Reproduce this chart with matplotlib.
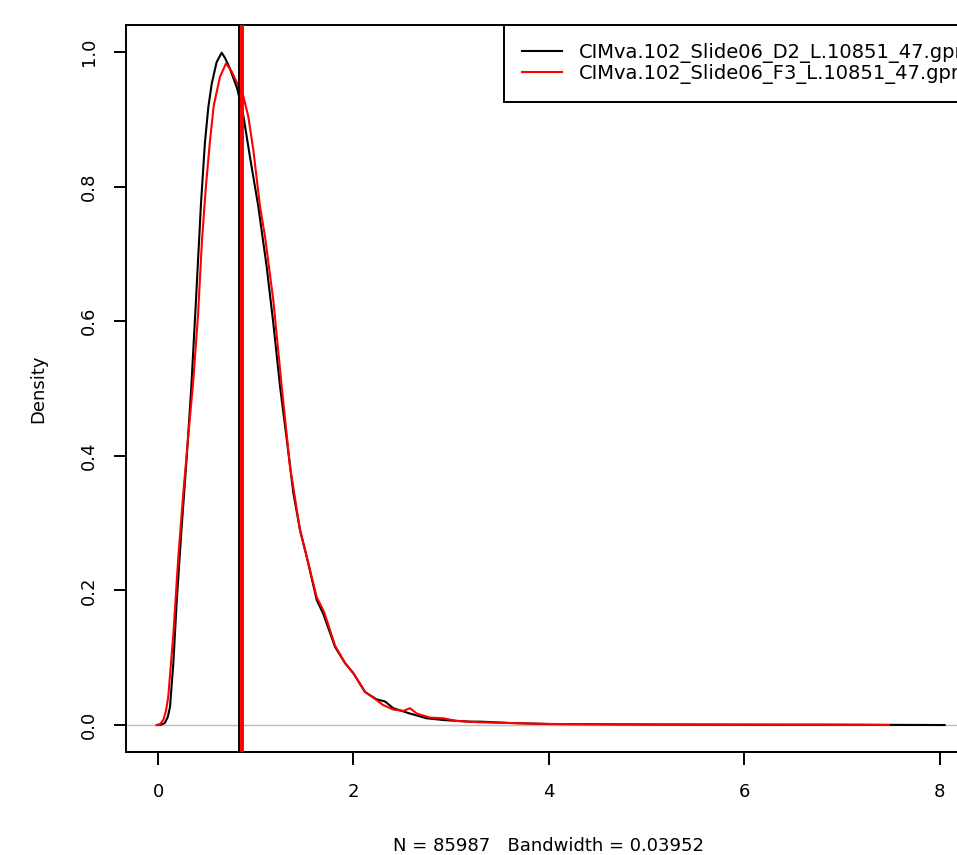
import matplotlib
matplotlib.use("Agg")
import matplotlib.pyplot as plt

# density curve of the D2 slide (black)
d2_x = [-0.01, 0.03, 0.07, 0.10, 0.123, 0.157, 0.19, 0.24, 0.29, 0.34,
        0.39, 0.44, 0.48, 0.515, 0.55, 0.60, 0.652, 0.69, 0.737,
        0.812, 0.874, 0.94, 1.027, 1.112, 1.18, 1.249, 1.317, 1.385, 1.453,
        1.522, 1.624, 1.692, 1.812, 1.914, 1.999, 2.119, 2.238, 2.323, 2.408,
        2.579, 2.75, 2.92, 3.19, 3.3, 3.6, 4.0, 5.0, 6.0, 7.0, 8.05]
d2_y = [0.0, 0.0005, 0.003, 0.012, 0.027, 0.092, 0.18, 0.29, 0.39, 0.50,
        0.635, 0.775, 0.865, 0.918, 0.953, 0.985, 0.999, 0.99, 0.975,
        0.945, 0.905, 0.845, 0.77, 0.681, 0.597, 0.503, 0.425, 0.345, 0.29,
        0.25, 0.186, 0.165, 0.116, 0.092, 0.077, 0.049, 0.038, 0.035, 0.025,
        0.017, 0.010, 0.0074, 0.005, 0.005, 0.003, 0.0015, 0.0008, 0.0005, 0.0004, 0.0]

# density curve of the F3 slide (red)
f3_x = [-0.015, 0.02, 0.054, 0.08, 0.105, 0.157, 0.208, 0.259, 0.31, 0.36,
        0.41, 0.45, 0.49, 0.53, 0.57, 0.634, 0.696, 0.754, 0.812, 0.874,
        0.924, 0.976, 1.044, 1.095, 1.18, 1.266, 1.351, 1.453, 1.522, 1.624,
        1.70, 1.812, 1.914, 1.999, 2.119, 2.238, 2.30, 2.408, 2.51, 2.579,
        2.648, 2.784, 2.92, 3.057, 3.3, 3.6, 4.0, 5.0, 6.0, 7.0, 7.48]
f3_y = [0.0, 0.001, 0.0075, 0.02, 0.042, 0.135, 0.25, 0.345, 0.43, 0.51,
        0.61, 0.72, 0.80, 0.865, 0.92, 0.963, 0.983, 0.971, 0.953, 0.934,
        0.904, 0.854, 0.77, 0.726, 0.631, 0.503, 0.384, 0.29, 0.25, 0.19,
        0.168, 0.118, 0.092, 0.077, 0.049, 0.037, 0.030, 0.023, 0.021, 0.025,
        0.017, 0.011, 0.010, 0.006, 0.004, 0.003, 0.0015, 0.0008, 0.0005, 0.0004, 0.0]

labels = ["CIMva.102_Slide06_D2_L.10851_47.gpr",
          "CIMva.102_Slide06_F3_L.10851_47.gpr"]
medians = [0.832, 0.858]

x_ticks = [0, 2, 4, 6, 8]
y_ticks = [0.0, 0.2, 0.4, 0.6, 0.8, 1.0]
x_label = "N = 85987   Bandwidth = 0.03952"

plt.rcParams["font.family"] = ["DejaVu Sans"]
plt.rcParams["font.size"] = 13

fig = plt.figure(figsize=(9.57, 8.55), dpi=100)
# the plot region runs past the right edge, as in the reference
ax = fig.add_axes([126 / 957, 103 / 855, 845 / 957, 727 / 855])

ax.axhline(0, color="#bebebe", lw=1.0, zorder=1)
ax.plot(d2_x, d2_y, color="black", lw=1.5, label=labels[0], zorder=3)
ax.plot(f3_x, f3_y, color="red", lw=1.5, label=labels[1], zorder=3)
ax.axvline(medians[0], color="black", lw=1.4, zorder=4)
ax.axvline(medians[1], color="red", lw=2.8, zorder=4)

ax.set_xlim(-0.3275, 8.32)
ax.set_ylim(-0.0401, 1.0401)
ax.set_xticks(x_ticks)
ax.set_xticklabels([str(t) for t in x_ticks])
ax.set_yticks(y_ticks)
ax.set_yticklabels(["%.1f" % t for t in y_ticks], rotation=90, va="center")

for s in ax.spines.values():
    s.set_linewidth(1.4)
ax.tick_params(direction="out", length=9, width=1.4, labelsize=13)
ax.tick_params(axis="x", pad=13)
ax.tick_params(axis="y", pad=11)

ax.set_xlabel(x_label, fontsize=13, labelpad=26)
ax.set_ylabel("Density", fontsize=13, labelpad=24)

# legend box sticks out past the right edge, so the labels get cut like the original
leg = ax.legend(loc="upper right", bbox_to_anchor=(1.013, 1), borderaxespad=0,
                fancybox=False, framealpha=1, edgecolor="black",
                handlelength=2.06, handletextpad=0.87, borderpad=0.93,
                labelspacing=0.04, fontsize=14)
leg.get_frame().set_linewidth(1.4)

fig.savefig("out.png", dpi=100)
